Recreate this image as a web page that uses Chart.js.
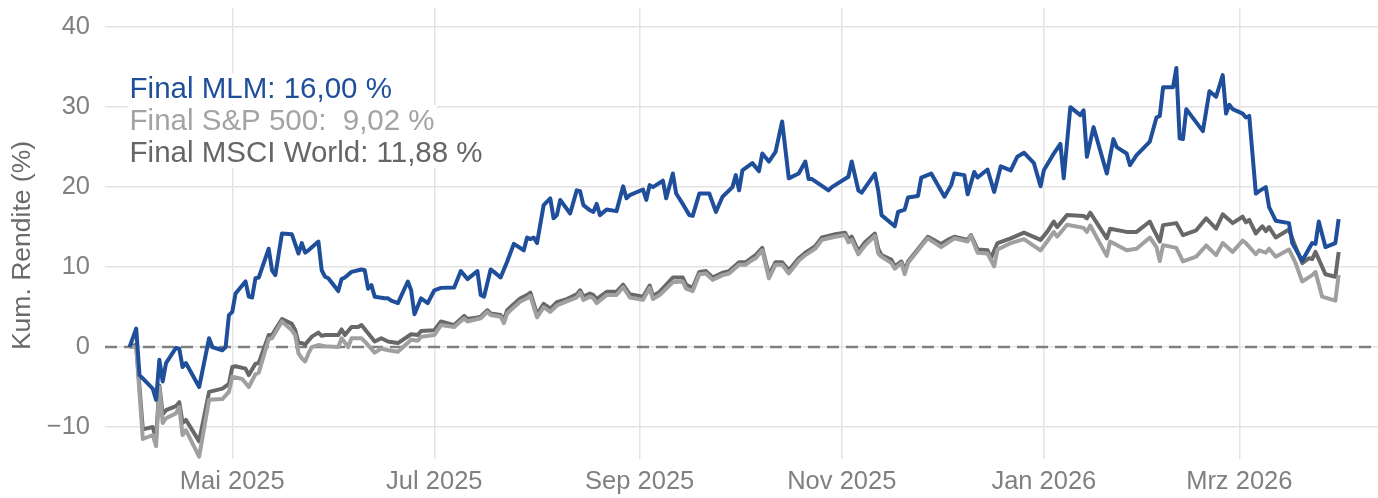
<!DOCTYPE html>
<html lang="de">
<head>
<meta charset="utf-8">
<title>Kumulierte Rendite</title>
<script src="https://cdn.jsdelivr.net/npm/chart.js@4.4.1/dist/chart.umd.min.js"></script>
<style>
  html, body { margin: 0; padding: 0; background: #fff; }
  #wrap { width: 1378px; height: 498px; }
</style>
</head>
<body>
<div id="wrap"><canvas id="chart" width="1378" height="498"></canvas></div>
<script>
// MLM (blue)
const mlmDates = [
  '2025-03-31','2025-04-02','2025-04-03','2025-04-07','2025-04-08','2025-04-09','2025-04-10','2025-04-11',
  '2025-04-14','2025-04-15','2025-04-16','2025-04-17','2025-04-21','2025-04-24','2025-04-25','2025-04-28',
  '2025-04-29','2025-04-30','2025-05-01','2025-05-02','2025-05-05','2025-05-06','2025-05-07','2025-05-08',
  '2025-05-09','2025-05-12','2025-05-13','2025-05-14','2025-05-16','2025-05-19','2025-05-21','2025-05-22',
  '2025-05-23','2025-05-24','2025-05-27','2025-05-28','2025-05-29','2025-05-30','2025-06-02','2025-06-03',
  '2025-06-04','2025-06-06','2025-06-09','2025-06-10','2025-06-11','2025-06-12','2025-06-13','2025-06-16',
  '2025-06-17','2025-06-18','2025-06-20','2025-06-23','2025-06-24','2025-06-25','2025-06-27','2025-06-29',
  '2025-07-01','2025-07-03','2025-07-07','2025-07-09','2025-07-11','2025-07-14','2025-07-15','2025-07-16',
  '2025-07-18','2025-07-19','2025-07-21','2025-07-23','2025-07-25','2025-07-28','2025-07-29','2025-07-30',
  '2025-07-31','2025-08-01','2025-08-03','2025-08-05','2025-08-06','2025-08-07','2025-08-08','2025-08-11',
  '2025-08-13','2025-08-14','2025-08-15','2025-08-17','2025-08-18','2025-08-19','2025-08-20','2025-08-22',
  '2025-08-25','2025-08-27','2025-08-28','2025-08-29','2025-09-02','2025-09-03','2025-09-04','2025-09-05',
  '2025-09-08','2025-09-09','2025-09-11','2025-09-12','2025-09-14','2025-09-16','2025-09-17','2025-09-19',
  '2025-09-22','2025-09-24','2025-09-26','2025-09-29','2025-09-30','2025-10-01','2025-10-02','2025-10-05',
  '2025-10-07','2025-10-08','2025-10-10','2025-10-12','2025-10-14','2025-10-16','2025-10-19','2025-10-21',
  '2025-10-22','2025-10-23','2025-10-28','2025-10-29','2025-11-03','2025-11-04','2025-11-06','2025-11-07',
  '2025-11-11','2025-11-12','2025-11-13','2025-11-17','2025-11-18','2025-11-20','2025-11-21','2025-11-24',
  '2025-11-25','2025-11-28','2025-12-02','2025-12-04','2025-12-05','2025-12-08','2025-12-09','2025-12-11',
  '2025-12-12','2025-12-15','2025-12-17','2025-12-19','2025-12-22','2025-12-24','2025-12-26','2025-12-29',
  '2025-12-31','2026-01-01','2026-01-04','2026-01-06','2026-01-07','2026-01-09','2026-01-12','2026-01-13',
  '2026-01-14','2026-01-16','2026-01-20','2026-01-22','2026-01-23','2026-01-26','2026-01-27','2026-01-29',
  '2026-02-02','2026-02-04','2026-02-05','2026-02-06','2026-02-09','2026-02-10','2026-02-11','2026-02-12',
  '2026-02-13','2026-02-18','2026-02-20','2026-02-22','2026-02-24','2026-02-25','2026-02-26','2026-02-27',
  '2026-03-02','2026-03-03','2026-03-04','2026-03-06','2026-03-07','2026-03-09','2026-03-10','2026-03-12',
  '2026-03-16','2026-03-17','2026-03-20','2026-03-23','2026-03-24','2026-03-25','2026-03-27','2026-03-30',
  '2026-03-31'
];
const mlmValues = [
  0.0, 2.3, -3.5, -5.2, -6.6, -1.6, -4.3, -2.0,
  -0.1, -0.2, -2.5, -2.0, -5.0, 1.1, 0.0, -0.4,
  0.0, 4.0, 4.4, 6.7, 8.2, 6.3, 6.2, 8.6,
  8.7, 12.3, 9.6, 9.0, 14.2, 14.1, 11.7, 13.0,
  11.8, 12.1, 13.2, 9.6, 8.8, 8.6, 7.0, 8.5,
  8.7, 9.4, 9.7, 9.6, 7.3, 7.75, 6.3, 6.1,
  6.1, 5.8, 5.5, 8.2, 7.1, 4.1, 6.1, 5.5,
  7.1, 7.4, 7.45, 9.5, 8.5, 9.5, 6.5, 6.3,
  9.7, 9.4, 8.7, 10.7, 12.9, 12.1, 13.7, 13.5,
  13.7, 13.0, 17.75, 18.6, 16.1, 16.5, 18.4, 16.7,
  19.6, 19.5, 17.75, 17.1, 16.9, 17.9, 16.5, 17.2,
  17.0, 20.1, 18.6, 19.0, 19.7, 18.4, 20.25, 20.0,
  20.8, 18.6, 21.7, 19.2, 17.9, 16.5, 16.4, 19.2,
  19.2, 16.9, 18.8, 20.0, 21.5, 19.6, 22.1, 23.0,
  22.0, 24.2, 23.2, 24.4, 28.2, 21.1, 21.7, 23.2,
  21.0, 21.0, 19.6, 20.0, 21.3, 23.2, 19.6, 19.3,
  21.7, 19.6, 16.5, 15.1, 16.9, 17.2, 18.7, 18.9,
  21.2, 21.7, 18.8, 20.25, 21.7, 21.5, 19.1, 21.9,
  21.2, 22.2, 19.4, 22.6, 22.1, 23.8, 24.3, 23.0,
  20.1, 22.1, 24.2, 25.4, 21.1, 30.0, 29.0, 29.6,
  23.8, 27.5, 21.7, 26.0, 25.0, 24.2, 22.75, 24.0,
  25.7, 28.7, 28.9, 32.5, 32.5, 34.9, 26.1, 26.0,
  29.75, 27.0, 32.0, 31.3, 34.0, 29.2, 30.3, 29.75,
  29.2, 28.7, 28.9, 19.2, 19.5, 20.0, 17.5, 15.8,
  15.5, 13.0, 10.8, 13.0, 12.9, 15.7, 12.5, 13.0,
  16.0
];

// S&P 500 (light grey)
const spDates = [
  '2025-03-31','2025-04-02','2025-04-04','2025-04-07','2025-04-08','2025-04-09','2025-04-10','2025-04-11',
  '2025-04-14','2025-04-15','2025-04-16','2025-04-17','2025-04-21','2025-04-24','2025-04-28','2025-04-30',
  '2025-05-01','2025-05-04','2025-05-06','2025-05-08','2025-05-09','2025-05-12','2025-05-13','2025-05-16',
  '2025-05-19','2025-05-20','2025-05-21','2025-05-22','2025-05-23','2025-05-24','2025-05-25','2025-05-27',
  '2025-05-29','2025-06-02','2025-06-03','2025-06-05','2025-06-06','2025-06-09','2025-06-10','2025-06-13',
  '2025-06-15','2025-06-17','2025-06-20','2025-06-24','2025-06-26','2025-06-27','2025-07-01','2025-07-03',
  '2025-07-07','2025-07-10','2025-07-11','2025-07-14','2025-07-15','2025-07-17','2025-07-18','2025-07-21',
  '2025-07-22','2025-07-23','2025-07-24','2025-07-27','2025-07-29','2025-07-30','2025-08-01','2025-08-03',
  '2025-08-05','2025-08-07','2025-08-10','2025-08-13','2025-08-14','2025-08-15','2025-08-17','2025-08-18',
  '2025-08-19','2025-08-22','2025-08-25','2025-08-27','2025-08-29','2025-09-02','2025-09-04','2025-09-05',
  '2025-09-07','2025-09-11','2025-09-14','2025-09-15','2025-09-17','2025-09-19','2025-09-21','2025-09-23',
  '2025-09-26','2025-09-28','2025-10-01','2025-10-03','2025-10-05','2025-10-06','2025-10-08','2025-10-10',
  '2025-10-12','2025-10-14','2025-10-16','2025-10-19','2025-10-21','2025-10-24','2025-10-26','2025-10-28',
  '2025-10-30','2025-11-02','2025-11-03','2025-11-04','2025-11-06','2025-11-08','2025-11-11','2025-11-12',
  '2025-11-13','2025-11-16','2025-11-17','2025-11-19','2025-11-20','2025-11-21','2025-11-25','2025-11-27',
  '2025-12-01','2025-12-05','2025-12-09','2025-12-10','2025-12-12','2025-12-15','2025-12-17','2025-12-18',
  '2025-12-22','2025-12-26','2025-12-31','2026-01-02','2026-01-04','2026-01-05','2026-01-08','2026-01-13',
  '2026-01-14','2026-01-15','2026-01-20','2026-01-21','2026-01-26','2026-01-29','2026-02-02','2026-02-04',
  '2026-02-05','2026-02-06','2026-02-10','2026-02-12','2026-02-16','2026-02-19','2026-02-22','2026-02-24',
  '2026-02-27','2026-03-02','2026-03-03','2026-03-06','2026-03-07','2026-03-09','2026-03-10','2026-03-12',
  '2026-03-16','2026-03-18','2026-03-20','2026-03-23','2026-03-24','2026-03-26','2026-03-30','2026-03-31'
];
const spValues = [
  0.0, 0.0, -11.5, -11.0, -12.4, -5.0, -9.5, -8.9,
  -8.3, -7.5, -11.0, -10.4, -13.7, -6.6, -6.5, -5.6,
  -3.7, -4.0, -5.0, -3.4, -3.2, 1.0, 1.1, 3.2,
  2.1, 1.5, -0.8, -1.4, -1.8, -0.8, 0.0, 0.25,
  0.1, 0.0, 1.1, 0.0, 1.1, 1.1, 0.7, -0.7,
  -0.2, -0.4, -0.6, 0.9, 0.8, 1.3, 1.5, 2.75,
  2.5, 3.6, 3.2, 3.5, 3.6, 4.4, 4.0, 3.8,
  3.0, 4.2, 4.6, 5.7, 6.1, 6.4, 3.7, 5.0,
  4.4, 5.2, 5.7, 6.2, 6.8, 5.9, 6.3, 6.1,
  5.5, 6.5, 6.5, 7.5, 6.2, 5.9, 7.4, 6.0,
  6.5, 8.1, 8.2, 7.3, 7.0, 9.1, 9.2, 8.4,
  9.0, 9.2, 10.3, 10.3, 10.9, 11.1, 12.1, 8.6,
  10.3, 10.3, 9.2, 10.8, 11.5, 12.3, 13.4, 13.6,
  13.8, 14.0, 13.1, 13.4, 11.6, 12.7, 13.9, 11.7,
  11.3, 10.5, 9.8, 10.5, 9.1, 10.5, 12.6, 13.6,
  12.5, 13.6, 13.2, 13.9, 11.8, 11.7, 10.1, 12.2,
  13.0, 13.5, 12.1, 13.2, 14.4, 13.8, 15.3, 14.9,
  14.4, 15.2, 11.4, 13.2, 12.1, 12.3, 13.7, 12.5,
  10.75, 12.75, 12.4, 10.7, 11.3, 12.7, 11.5, 13.0,
  11.9, 13.3, 13.0, 11.6, 12.1, 11.8, 12.3, 11.3,
  12.2, 10.5, 8.2, 9.0, 9.4, 6.3, 5.8, 9.02
];

// MSCI World (dark grey)
const msciDates = [
  '2025-03-31','2025-04-02','2025-04-04','2025-04-07','2025-04-08','2025-04-09','2025-04-10','2025-04-11',
  '2025-04-14','2025-04-15','2025-04-16','2025-04-17','2025-04-21','2025-04-24','2025-04-28','2025-04-30',
  '2025-05-01','2025-05-02','2025-05-05','2025-05-06','2025-05-08','2025-05-09','2025-05-12','2025-05-13',
  '2025-05-16','2025-05-19','2025-05-20','2025-05-21','2025-05-22','2025-05-23','2025-05-25','2025-05-27',
  '2025-05-28','2025-05-29','2025-06-02','2025-06-03','2025-06-04','2025-06-06','2025-06-08','2025-06-09',
  '2025-06-13','2025-06-15','2025-06-17','2025-06-20','2025-06-24','2025-06-26','2025-06-27','2025-07-01',
  '2025-07-03','2025-07-07','2025-07-10','2025-07-11','2025-07-14','2025-07-15','2025-07-17','2025-07-18',
  '2025-07-21','2025-07-22','2025-07-23','2025-07-24','2025-07-27','2025-07-29','2025-07-30','2025-08-01',
  '2025-08-03','2025-08-05','2025-08-07','2025-08-10','2025-08-13','2025-08-14','2025-08-15','2025-08-17',
  '2025-08-18','2025-08-19','2025-08-22','2025-08-25','2025-08-27','2025-08-29','2025-09-02','2025-09-04',
  '2025-09-05','2025-09-07','2025-09-11','2025-09-14','2025-09-15','2025-09-17','2025-09-19','2025-09-21',
  '2025-09-23','2025-09-26','2025-09-28','2025-10-01','2025-10-03','2025-10-05','2025-10-06','2025-10-08',
  '2025-10-10','2025-10-12','2025-10-14','2025-10-16','2025-10-19','2025-10-21','2025-10-24','2025-10-26',
  '2025-10-28','2025-10-30','2025-11-02','2025-11-03','2025-11-04','2025-11-06','2025-11-08','2025-11-11',
  '2025-11-12','2025-11-13','2025-11-16','2025-11-17','2025-11-19','2025-11-20','2025-11-21','2025-11-25',
  '2025-11-27','2025-12-01','2025-12-03','2025-12-05','2025-12-09','2025-12-10','2025-12-12','2025-12-15',
  '2025-12-16','2025-12-18','2025-12-22','2025-12-26','2025-12-31','2026-01-02','2026-01-04','2026-01-05',
  '2026-01-08','2026-01-13','2026-01-14','2026-01-15','2026-01-20','2026-01-21','2026-01-26','2026-01-29',
  '2026-02-02','2026-02-03','2026-02-05','2026-02-06','2026-02-10','2026-02-12','2026-02-16','2026-02-19',
  '2026-02-22','2026-02-24','2026-02-27','2026-03-02','2026-03-03','2026-03-04','2026-03-06','2026-03-07',
  '2026-03-08','2026-03-09','2026-03-10','2026-03-12','2026-03-16','2026-03-18','2026-03-20','2026-03-22',
  '2026-03-23','2026-03-24','2026-03-27','2026-03-30','2026-03-31'
];
const msciValues = [
  0.0, 0.3, -10.3, -10.0, -11.5, -4.8, -8.4, -7.9,
  -7.4, -6.9, -9.5, -9.1, -11.8, -5.6, -5.2, -4.6,
  -2.5, -2.4, -2.7, -3.5, -2.1, -2.0, 1.5, 1.5,
  3.5, 2.9, 2.1, 0.5, 0.5, 0.3, 1.3, 1.8,
  1.4, 1.5, 1.5, 2.2, 1.5, 2.5, 2.5, 2.75,
  0.7, 1.1, 0.7, 0.5, 1.6, 1.5, 2.0, 2.1,
  3.2, 2.75, 3.9, 3.5, 3.7, 3.8, 4.6, 4.2,
  4.0, 3.4, 4.6, 5.0, 6.1, 6.5, 6.8, 4.1,
  5.4, 4.8, 5.6, 6.0, 6.6, 7.1, 6.3, 6.7,
  6.5, 6.0, 6.9, 6.9, 7.8, 6.6, 6.3, 7.7,
  6.4, 6.9, 8.7, 8.7, 7.8, 7.4, 9.4, 9.5,
  8.7, 9.3, 9.5, 10.6, 10.6, 11.2, 11.5, 12.4,
  9.0, 10.6, 10.6, 9.6, 11.1, 11.8, 12.6, 13.7,
  13.9, 14.1, 14.3, 13.5, 13.8, 12.0, 13.1, 14.2,
  12.3, 11.5, 10.9, 10.1, 10.7, 9.6, 10.7, 12.75,
  13.8, 12.9, 13.4, 13.8, 13.4, 14.0, 12.2, 12.1,
  11.1, 13.0, 13.6, 14.3, 13.4, 14.4, 15.7, 15.0,
  16.5, 16.4, 16.1, 16.8, 13.6, 14.8, 14.4, 14.4,
  15.7, 14.8, 13.2, 15.25, 15.5, 14.0, 14.6, 16.1,
  14.8, 16.6, 15.5, 16.3, 15.6, 15.9, 14.2, 14.7,
  15.1, 14.5, 15.0, 13.7, 14.7, 12.5, 10.5, 11.1,
  11.0, 11.9, 9.1, 8.8, 11.88
];

// axis
const xRange = ['2025-03-23T14:00:00Z', '2026-04-11T21:00:00Z'];
const xTickDates = ['2025-05-01', '2025-07-01', '2025-09-01', '2025-11-01', '2026-01-01', '2026-03-01'];
const xTickLabels = ['Mai 2025', 'Jul 2025', 'Sep 2025', 'Nov 2025', 'Jan 2026', 'Mrz 2026'];
const yTickValues = [-10, 0, 10, 20, 30, 40];
const yRange = [-14, 42.4];
const yTitle = 'Kum. Rendite (%)';

// final value labels (y = baseline value on the axis)
const labelNames = ['Final MLM: ', 'Final S&P 500: ', 'Final MSCI World: '];
const labelY = [31.1, 27.1, 23.1];

const toTime = s => Date.parse(s.length === 10 ? s + 'T00:00:00Z' : s);
const toPoints = (dates, values) => dates.map((d, i) => ({ x: toTime(d), y: values[i] }));
const fmt = v => v.toFixed(2).replace('.', ',').padStart(5, ' ') + ' %';

const FONT = '"Liberation Sans", Arial, Helvetica, sans-serif';
const colMLM = '#1f4e9b';
const colSP = '#a0a0a0';
const colMSCI = '#686868';

const zeroLine = {
    id: 'zeroLine',
    beforeDatasetsDraw(chart) {
        const { ctx, chartArea, scales } = chart;
        const y = scales.y.getPixelForValue(0);
        ctx.save();
        ctx.strokeStyle = '#808080';
        ctx.lineWidth = 2.5;
        ctx.setLineDash([12, 7]);
        ctx.beginPath();
        ctx.moveTo(chartArea.left, y);
        ctx.lineTo(chartArea.right, y);
        ctx.stroke();
        ctx.restore();
    }
};

const finalLabels = {
    id: 'finalLabels',
    afterDatasetsDraw(chart) {
        const { ctx, scales } = chart;
        const finals = [mlmValues, spValues, msciValues].map(a => a[a.length - 1]);
        const colors = [colMLM, '#a3a3a3', '#666666'];
        const x = scales.x.getPixelForValue(toTime(mlmDates[0]));
        ctx.save();
        ctx.font = '29.5px ' + FONT;
        ctx.textBaseline = 'alphabetic';
        ctx.textAlign = 'left';
        labelNames.forEach((name, i) => {
            const text = name + fmt(finals[i]);
            const y = scales.y.getPixelForValue(labelY[i]);
            const w = ctx.measureText(text).width;
            ctx.fillStyle = '#ffffff';
            ctx.fillRect(x - 2, y - 25, w + 4, 31);
            ctx.fillStyle = colors[i];
            ctx.fillText(text, x, y);
        });
        ctx.restore();
    }
};

// y-axis title, placed like the reference (a little below the panel centre)
const axisTitle = {
    id: 'axisTitle',
    afterDraw(chart) {
        const { ctx, chartArea } = chart;
        ctx.save();
        ctx.translate(23, (chartArea.top + chartArea.bottom) / 2 + 12);
        ctx.rotate(-Math.PI / 2);
        ctx.font = '26.5px ' + FONT;
        ctx.fillStyle = '#6a6a6a';
        ctx.textAlign = 'center';
        ctx.textBaseline = 'middle';
        ctx.fillText(yTitle, 0, 0);
        ctx.restore();
    }
};

// keep the plot area exactly where the reference has it
const noEdgePadding = scale => {
    scale.paddingTop = 0;
    scale.paddingBottom = 0;
    scale.paddingLeft = 0;
    scale.paddingRight = 0;
};

const ctx = document.getElementById('chart').getContext('2d');

new Chart(ctx, {
    type: 'line',
    data: {
        datasets: [
            { label: 'MLM', data: toPoints(mlmDates, mlmValues), borderColor: colMLM },
            { label: 'S&P 500', data: toPoints(spDates, spValues), borderColor: colSP },
            { label: 'MSCI World', data: toPoints(msciDates, msciValues), borderColor: colMSCI }
        ]
    },
    options: {
        responsive: false,
        animation: false,
        devicePixelRatio: 1,
        layout: { padding: { top: 8, right: 0, bottom: 0, left: 0 } },
        elements: {
            line: { borderWidth: 4, tension: 0, borderJoinStyle: 'round', fill: false },
            point: { radius: 0, hoverRadius: 0 }
        },
        plugins: {
            legend: { display: false },
            tooltip: { enabled: false }
        },
        scales: {
            x: {
                type: 'linear',
                min: toTime(xRange[0]),
                max: toTime(xRange[1]),
                afterBuildTicks: scale => {
                    scale.ticks = xTickDates.map(d => ({ value: toTime(d) }));
                },
                afterFit: scale => { scale.height = 39; noEdgePadding(scale); },
                grid: { color: '#e4e4e4', lineWidth: 1.5, drawTicks: false },
                border: { display: false },
                ticks: {
                    autoSkip: false,
                    maxRotation: 0,
                    padding: 8,
                    color: '#808080',
                    font: { family: FONT, size: 25.5 },
                    callback: (value, index) => xTickLabels[index]
                }
            },
            y: {
                min: yRange[0],
                max: yRange[1],
                afterBuildTicks: scale => {
                    scale.ticks = yTickValues.map(v => ({ value: v }));
                },
                afterFit: scale => { scale.width = 105; noEdgePadding(scale); },
                grid: { color: '#e4e4e4', lineWidth: 1.5, drawTicks: false },
                border: { display: false },
                ticks: {
                    padding: 15,
                    color: '#808080',
                    font: { family: FONT, size: 25.5 },
                    callback: value => (value < 0 ? '\u2212' + Math.abs(value) : String(value))
                }
            }
        }
    },
    plugins: [zeroLine, finalLabels, axisTitle]
});
</script>
</body>
</html>
